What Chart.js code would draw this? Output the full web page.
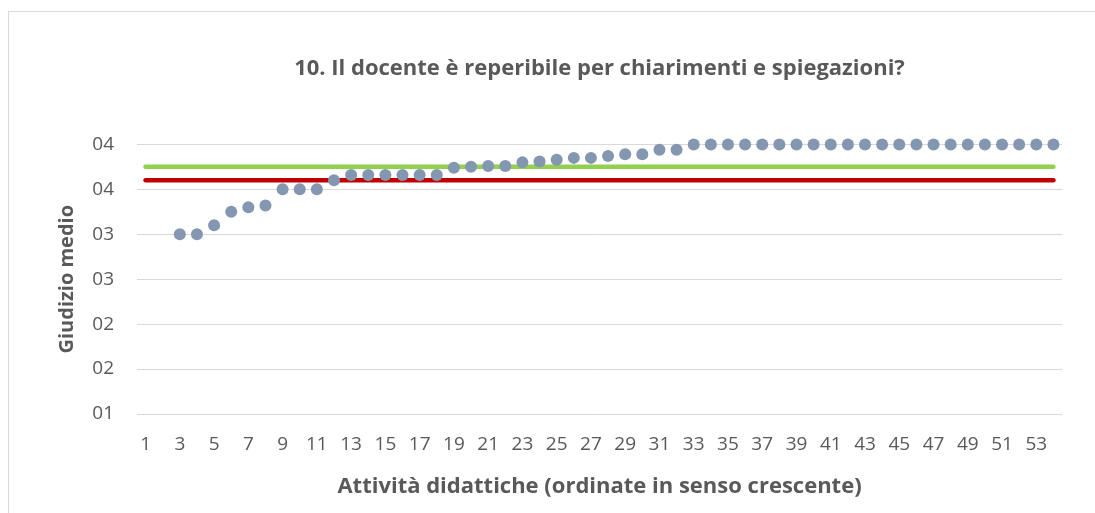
<!DOCTYPE html>
<html>
<head>
<meta charset="utf-8">
<script src="https://cdn.jsdelivr.net/npm/chart.js@4.4.1/dist/chart.umd.min.js"></script>
<style>
  html, body { margin:0; padding:0; background:#fff; overflow:hidden; }
  #wrap { width:1095px; height:513px; position:relative; }
</style>
</head>
<body>
<div id="wrap"><canvas id="chart" width="1095" height="513"></canvas></div>
<script>
"use strict";

// Attività 1..54 (ordinate in senso crescente)
const categories = Array.from({ length: 54 }, (_, i) => String(i + 1));

// giudizio medio per attività (le prime due senza valore)
const giudizi = [
  null, null, 3.00, 3.00, 3.10, 3.25, 3.30, 3.32, 3.50, 3.50,
  3.50, 3.60, 3.66, 3.66, 3.66, 3.66, 3.66, 3.66, 3.74, 3.75,
  3.76, 3.76, 3.80, 3.81, 3.83, 3.85, 3.85, 3.87, 3.89, 3.89,
  3.94, 3.94, 4.00, 4.00, 4.00, 4.00, 4.00, 4.00, 4.00, 4.00,
  4.00, 4.00, 4.00, 4.00, 4.00, 4.00, 4.00, 4.00, 4.00, 4.00,
  4.00, 4.00, 4.00, 4.00
];

const mediaVerde = 3.75;   // linea verde
const mediaRossa = 3.60;   // linea rossa
const yTicks = [1, 1.5, 2, 2.5, 3, 3.5, 4];

const FONT = '"Open Sans", Lato, sans-serif';
const TXT = '#595959';

const frame = {
  id: 'frame',
  beforeDraw(chart) {
    const c = chart.ctx;
    c.save();
    c.fillStyle = '#fff';
    c.fillRect(0, 0, chart.width, chart.height);
    c.strokeStyle = '#d9d9d9';
    c.lineWidth = 1;
    c.strokeRect(8.5, 11.5, 1200, 700);
    c.restore();
  }
};

new Chart(document.getElementById('chart').getContext('2d'), {
  type: 'line',
  data: {
    labels: categories,
    datasets: [
      {
        label: 'Giudizio medio',
        data: giudizi,
        showLine: false,
        pointRadius: 6,
        pointHoverRadius: 6,
        pointBorderWidth: 0,
        pointBackgroundColor: '#8497b0',
        borderColor: '#8497b0',
        clip: false
      },
      {
        label: 'Media verde',
        data: categories.map(() => mediaVerde),
        borderColor: '#92d050',
        borderWidth: 4.5,
        borderCapStyle: 'round',
        pointRadius: 0,
        fill: false
      },
      {
        label: 'Media rossa',
        data: categories.map(() => mediaRossa),
        borderColor: '#c00000',
        borderWidth: 4.5,
        borderCapStyle: 'round',
        pointRadius: 0,
        fill: false
      }
    ]
  },
  options: {
    responsive: false,
    animation: false,
    layout: { padding: { left: 55, right: 33, top: 0, bottom: 0 } },
    plugins: {
      legend: { display: false },
      tooltip: { enabled: false },
      title: {
        display: true,
        fullSize: false,
        text: '10. Il docente è reperibile per chiarimenti e spiegazioni?',
        color: TXT,
        font: { family: FONT, size: 22, weight: 'bold', lineHeight: 1.2 },
        padding: { top: 56, bottom: 62 }
      }
    },
    scales: {
      x: {
        offset: true,
        grid: { display: false, drawTicks: false },
        border: { display: false },
        ticks: {
          autoSkip: false,
          maxRotation: 0,
          padding: 19,
          color: TXT,
          font: { family: FONT, size: 19 },
          callback: (v, i) => (i % 2 === 0 ? categories[i] : '')
        },
        title: {
          display: true,
          text: 'Attività didattiche (ordinate in senso crescente)',
          color: TXT,
          font: { family: FONT, size: 22, weight: 'bold', lineHeight: 1.2 },
          padding: { top: 0, bottom: 13 }
        },
        afterFit: s => { s.height = 99; }
      },
      y: {
        min: 1,
        max: 4,
        afterBuildTicks: s => { s.ticks = yTicks.map(v => ({ value: v })); },
        grid: { color: '#d9d9d9', lineWidth: 1, drawTicks: false },
        border: { display: false },
        ticks: {
          padding: 23,
          color: TXT,
          font: { family: FONT, size: 19 },
          callback: v => String(Math.round(v)).padStart(2, '0')
        },
        title: {
          display: true,
          text: 'Giudizio medio',
          color: TXT,
          font: { family: FONT, size: 20, weight: 'bold', lineHeight: 1.2 },
          padding: { top: 0, bottom: 0 }
        },
        afterFit: s => { s.width = 82; }
      }
    }
  },
  plugins: [frame]
});
</script>
</body>
</html>
